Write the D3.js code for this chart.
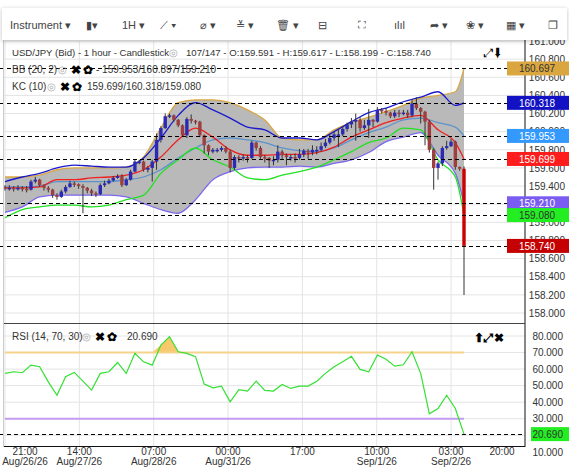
<!DOCTYPE html>
<html><head><meta charset="utf-8">
<script src="https://cdn.jsdelivr.net/npm/d3@7"></script>
<style>body{margin:0;background:#fff;font-family:"Liberation Sans",Arial,sans-serif}</style>
</head><body><svg id="chart" width="569" height="472"></svg>
<script>
// candles, hourly, opens are the previous close
const closes = [159.38,159.38,159.37,159.38,159.37,159.36,159.45,159.47,159.41,159.38,
159.36,159.30,159.28,159.34,159.39,159.43,159.42,159.40,159.38,159.35,
159.32,159.31,159.41,159.43,159.46,159.49,159.51,159.41,159.47,159.56,
159.67,159.67,159.58,159.60,159.67,159.91,160.04,160.17,160.18,160.13,
160.07,159.96,160.14,160.12,160.11,159.96,159.85,159.78,159.80,159.80,
159.82,159.78,159.60,159.72,159.71,159.72,159.71,159.88,159.82,159.72,
159.71,159.68,159.69,159.78,159.74,159.72,159.72,159.71,159.75,159.79,
159.77,159.80,159.80,159.84,159.88,159.93,159.97,159.97,160.03,160.08,
160.11,160.13,160.04,160.07,160.13,160.11,160.24,160.23,160.21,160.17,
160.21,160.20,160.21,160.18,160.31,160.26,160.22,160.11,159.80,159.60,
159.65,159.82,159.84,159.89,159.61,159.591,158.740];
const highs = [159.41,159.41,159.40,159.41,159.40,159.40,159.47,159.50,159.48,159.42,
159.40,159.37,159.32,159.36,159.41,159.46,159.45,159.43,159.42,159.39,
159.37,159.34,159.43,159.46,159.48,159.51,159.53,159.53,159.49,159.58,
159.69,159.69,159.68,159.62,159.69,159.98,160.06,160.20,160.20,160.19,
160.14,160.08,160.16,160.19,160.13,160.12,159.97,159.86,159.82,159.82,
159.84,159.84,159.80,159.74,159.74,159.75,159.74,159.90,159.89,159.84,
159.74,159.72,159.73,159.85,159.80,159.76,159.75,159.76,159.81,159.81,
159.81,159.85,159.84,159.88,159.92,159.97,160.00,160.03,160.06,160.10,
160.15,160.20,160.16,160.13,160.25,160.14,160.27,160.26,160.26,160.22,
160.24,160.24,160.24,160.24,160.36,160.38,160.27,160.23,160.13,159.82,
159.67,159.84,159.90,159.92,159.90,159.617,159.617];
const lows = [159.35,159.35,159.34,159.35,159.34,159.33,159.35,159.43,159.39,159.35,
159.33,159.27,159.25,159.27,159.32,159.38,159.39,159.37,159.10,159.32,
159.29,159.28,159.30,159.39,159.42,159.45,159.48,159.39,159.40,159.46,
159.55,159.64,159.56,159.55,159.45,159.58,159.88,160.03,160.15,160.11,
160.05,159.94,159.93,160.09,160.08,159.94,159.76,159.74,159.76,159.77,
159.78,159.76,159.55,159.58,159.66,159.68,159.66,159.70,159.79,159.70,
159.66,159.60,159.63,159.66,159.70,159.63,159.68,159.66,159.69,159.72,
159.70,159.74,159.75,159.78,159.82,159.86,159.90,159.83,159.95,160.00,
160.04,159.90,160.00,160.02,159.93,160.05,160.10,160.20,160.18,160.15,
160.15,160.16,160.18,160.15,160.16,160.24,160.09,159.85,159.77,159.36,
159.47,159.62,159.80,159.83,159.58,159.57,158.199];
const firstOpen = 159.39;

// indicator lines, read every 4th bar (0,4,...,104) plus the last bar 106
const bandBars = [0,4,8,12,16,20,24,28,32,36,40,44,48,52,56,60,64,68,72,76,80,84,88,92,96,100,104,106];
const bbUpper = [159.50,159.50,159.52,159.58,159.60,159.60,159.60,159.61,159.72,160.04,160.32,160.35,160.35,160.32,160.24,160.13,159.93,159.91,159.91,160.02,160.10,160.16,160.22,160.29,160.37,160.40,160.44,160.697];
const bbMid = [159.39,159.39,159.40,159.45,159.45,159.45,159.45,159.47,159.50,159.58,159.71,159.82,159.91,159.93,159.91,159.88,159.82,159.79,159.78,159.82,159.91,159.99,160.05,160.13,160.15,160.10,160.05,159.953];
const bbLower = [159.11,159.17,159.28,159.30,159.30,159.30,159.30,159.28,159.21,159.14,159.10,159.25,159.47,159.56,159.60,159.61,159.61,159.62,159.61,159.65,159.69,159.77,159.89,159.94,159.99,159.74,159.54,159.210];
const kcUpper = [159.45,159.50,159.54,159.60,159.63,159.62,159.61,159.61,159.71,159.93,160.18,160.32,160.24,160.15,160.05,160.02,159.93,159.93,159.91,160.00,160.11,160.21,160.26,160.33,160.38,160.44,160.29,160.318];
const kcMid = [159.38,159.38,159.39,159.47,159.47,159.49,159.50,159.52,159.58,159.72,159.91,160.04,159.94,159.80,159.74,159.74,159.75,159.75,159.77,159.83,159.94,160.02,160.10,160.15,160.18,160.02,159.88,159.699];
const kcLower = [159.05,159.14,159.17,159.19,159.19,159.17,159.19,159.25,159.30,159.54,159.69,159.82,159.69,159.61,159.49,159.47,159.52,159.56,159.61,159.69,159.78,159.88,159.93,160.04,160.02,159.69,159.50,159.080];

// RSI read every 2nd bar (0,2,...,104) plus bar 106
const rsiValues = [57.4,58.4,57.8,62.4,61.4,52.3,44.2,55.4,58.0,52.7,47.3,57.4,58.4,64.0,57.4,69.5,64.4,62.4,74.5,79.6,
70.5,69.5,67.5,50.9,48.7,49.7,40.2,47.5,46.7,52.7,47.1,46.7,50.7,48.3,49.7,49.7,52.7,57.4,61.4,64.4,
67.7,59.8,58.4,68.5,65.9,61.8,62.6,70.5,57.4,33.0,36.2,44.2,36.2,20.69];

const tickBars = [0,17,34,51,68,85,102,119];
const tickTimes = ["21:00","14:00","07:00","00:00","17:00","10:00","03:00","20:00"];
const tickDates = ["Aug/26/26","Aug/27/26","Aug/28/26","Aug/31/26","","Sep/1/26","Sep/2/26",""];
const priceTicks = [158.0,158.2,158.4,158.6,158.8,159.0,159.2,159.4,159.6,159.8,160.0,160.2,160.4,160.6,160.8,161.0];
const rsiTicks = [10,20,30,40,50,60,70,80];
const priceTags = [
  {v:160.697, bg:"#d9a640", fg:"#333"},
  {v:160.318, bg:"#1212c4", fg:"#fff"},
  {v:159.953, bg:"#3399ff", fg:"#fff"},
  {v:159.699, bg:"#ff1c1c", fg:"#fff"},
  {v:159.210, bg:"#7a5cf2", fg:"#fff"},
  {v:159.080, bg:"#22ee22", fg:"#333"},
  {v:158.740, bg:"#c40000", fg:"#fff"}
];

const svg = d3.select("#chart");
const sepX = 525;
const x = d3.scaleLinear().domain([0, 106]).range([5, 464]);
const y = d3.scaleLinear().domain([158, 161]).range([313, 41]);
const yr = d3.scaleLinear().domain([10, 80]).range([451.8, 336]);

// clip for plot areas
const defs = svg.append("defs");
defs.append("clipPath").attr("id","cp").append("rect").attr("x",3).attr("y",41).attr("width",sepX-3).attr("height",282);
defs.append("clipPath").attr("id","cr").append("rect").attr("x",3).attr("y",324).attr("width",sepX-3).attr("height",122);
const shadow = defs.append("filter").attr("id","sh").attr("x","-5%").attr("y","-50%").attr("width","110%").attr("height","200%");
shadow.append("feDropShadow").attr("dx",0).attr("dy",1).attr("stdDeviation",2).attr("flood-color","#000").attr("flood-opacity",0.25);

// grids
const grid = svg.append("g").attr("stroke","#e4e4e4").attr("stroke-width",1);
priceTicks.forEach(p => grid.append("line").attr("x1",3).attr("x2",sepX).attr("y1",y(p)).attr("y2",y(p)));
rsiTicks.forEach(p => grid.append("line").attr("x1",3).attr("x2",sepX).attr("y1",yr(p)).attr("y2",yr(p)).attr("clip-path","url(#cr)"));
const tickX = b => 5 + b * (459 / 106) * 1.01;
tickBars.forEach(b => {
  if (tickX(b) >= sepX) return;
  grid.append("line").attr("x1",tickX(b)).attr("x2",tickX(b)).attr("y1",41).attr("y2",323);
  grid.append("line").attr("x1",tickX(b)).attr("x2",tickX(b)).attr("y1",324).attr("y2",446);
});

// price pane
const pane = svg.append("g").attr("clip-path","url(#cp)");
const bx = d => x(bandBars[d]);
const bandData = bandBars.map((b,i) => i);
pane.append("path").datum(bandData)
  .attr("fill","#b9b9b9")
  .attr("d", d3.area().x(bx).y0(i => y(bbLower[i])).y1(i => y(bbUpper[i])).curve(d3.curveMonotoneX));

const lineOf = arr => d3.line().x(bx).y(i => y(arr[i])).curve(d3.curveMonotoneX)(bandData);
[[bbUpper,"#d9a640"],[bbLower,"#7b68ee"],[bbMid,"#5b93cc"],[kcUpper,"#1a1acc"],[kcMid,"#f02020"],[kcLower,"#22e022"]]
  .forEach(([arr,c]) => pane.append("path").attr("d",lineOf(arr)).attr("fill","none").attr("stroke",c).attr("stroke-width",1.3));

const candles = closes.map((c,i) => ({i, o: i ? closes[i-1] : firstOpen, c, h: highs[i], l: lows[i]}));
const cg = pane.append("g");
cg.selectAll(".wick").data(candles).join("line")
  .attr("x1",d=>x(d.i)).attr("x2",d=>x(d.i)).attr("y1",d=>y(d.h)).attr("y2",d=>y(d.l))
  .attr("stroke","#333").attr("stroke-width",1);
cg.selectAll(".body").data(candles).join("rect")
  .attr("x",d=>x(d.i)-1.7).attr("width",3.4)
  .attr("y",d=>y(Math.max(d.o,d.c))).attr("height",d=>Math.max(1.5,Math.abs(y(d.o)-y(d.c))))
  .attr("fill",d=> d.i===106 ? "#cc0000" : d.c>=d.o ? "#2a2ab4" : "#9e3e3e");

// dashed value lines
const dash = svg.append("g").attr("stroke","#000").attr("stroke-dasharray","4,3").attr("stroke-width",1);
priceTags.forEach(t => dash.append("line").attr("x1",0).attr("x2",sepX).attr("y1",Math.round(y(t.v))+0.5).attr("y2",Math.round(y(t.v))+0.5));

// RSI pane
const rsiBars = rsiValues.map((v,i) => Math.min(i*2, 106));
const rp = svg.append("g").attr("clip-path","url(#cr)");
rp.append("path").datum(rsiValues)
  .attr("fill","#f7c25c").attr("opacity",0.9)
  .attr("d", d3.area().x((d,i)=>x(rsiBars[i])).y0(yr(70)).y1(d=>yr(Math.max(d,70))));
rp.append("line").attr("x1",5).attr("x2",x(106)).attr("y1",yr(70)).attr("y2",yr(70)).attr("stroke","#f5d38a").attr("stroke-width",2);
rp.append("line").attr("x1",5).attr("x2",x(106)).attr("y1",yr(30)).attr("y2",yr(30)).attr("stroke","#c49cf2").attr("stroke-width",2);
rp.append("path").datum(rsiValues)
  .attr("fill","none").attr("stroke","#33e033").attr("stroke-width",1.2)
  .attr("d", d3.line().x((d,i)=>x(rsiBars[i])).y(d=>yr(d)));
svg.append("line").attr("x1",0).attr("x2",sepX).attr("y1",Math.round(yr(20.69))+0.5).attr("y2",Math.round(yr(20.69))+0.5)
  .attr("stroke","#000").attr("stroke-dasharray","4,3");

// frame lines
svg.append("line").attr("x1",sepX).attr("x2",sepX).attr("y1",40).attr("y2",447).attr("stroke","#111");
svg.append("line").attr("x1",3).attr("x2",sepX).attr("y1",323.5).attr("y2",323.5).attr("stroke","#444");
svg.append("line").attr("x1",3).attr("x2",sepX).attr("y1",446.5).attr("y2",446.5).attr("stroke","#111");
svg.append("line").attr("x1",3.5).attr("x2",3.5).attr("y1",40).attr("y2",447).attr("stroke","#ccc");

// right axes via d3 axes
const styleAxis = g => {
  g.select(".domain").remove();
  g.selectAll(".tick line").remove();
  g.selectAll("text").attr("font-size",10).attr("fill","#333").attr("font-family","Liberation Sans, Arial, sans-serif");
};
svg.append("g").attr("transform","translate(565,0)")
  .call(d3.axisLeft(y).tickValues(priceTicks).tickSize(0).tickPadding(0).tickFormat(d3.format(".3f")))
  .call(styleAxis);
svg.append("g").attr("transform","translate(563,0)")
  .call(d3.axisLeft(yr).tickValues(rsiTicks).tickSize(0).tickPadding(0).tickFormat(d3.format(".3f")))
  .call(styleAxis);
priceTags.forEach(t => {
  const g = svg.append("g");
  g.append("rect").attr("x",507).attr("y",y(t.v)-7).attr("width",62).attr("height",14).attr("fill",t.bg);
  g.append("text").attr("x",537).attr("y",y(t.v)+4).attr("text-anchor","middle").attr("font-size",10).attr("fill",t.fg).text(t.v.toFixed(3));
});
svg.append("rect").attr("x",531).attr("y",yr(20.69)-7).attr("width",38).attr("height",14).attr("fill","#22ee22");
svg.append("text").attr("x",563).attr("y",yr(20.69)+4).attr("text-anchor","end").attr("font-size",10).attr("fill","#333").text("20.690");

// time axis
const tx = svg.append("g").attr("font-size",10).attr("fill","#333").attr("text-anchor","middle");
tickBars.forEach((b,i) => {
  const cx = Math.max(25, Math.min(502, tickX(b)));
  tx.append("text").attr("x",cx).attr("y",455).text(tickTimes[i]);
  if (tickDates[i]) tx.append("text").attr("x",cx).attr("y",465).text(tickDates[i]);
});

// legends
const lg = svg.append("g").attr("font-size",10).attr("fill","#333");
const icons = (gx, gy) => {
  lg.append("text").attr("x",gx).attr("y",gy).attr("fill","#aaa").text("◎");
  lg.append("text").attr("x",gx+13).attr("y",gy+1).attr("font-size",12).attr("font-weight","bold").attr("fill","#000").text("✖");
  lg.append("text").attr("x",gx+25).attr("y",gy+1).attr("font-size",12).attr("font-weight","bold").attr("fill","#000").text("✿");
};
lg.append("text").attr("x",12).attr("y",56).attr("font-size",9.6).text("USD/JPY (Bid) - 1 hour - Candlestick");
lg.append("text").attr("x",169).attr("y",56).attr("fill","#aaa").text("◎");
lg.append("text").attr("x",186).attr("y",56).attr("font-size",9.6).text("107/147 - O:159.591 - H:159.617 - L:158.199 - C:158.740");
lg.append("text").attr("x",12).attr("y",73).text("BB (20, 2)");
icons(58, 73);
lg.append("text").attr("x",96).attr("y",73).text("- 159.953/160.897/159.210");
lg.append("text").attr("x",12).attr("y",90).text("KC (10)");
icons(47, 90);
lg.append("text").attr("x",87).attr("y",90).text("159.699/160.318/159.080");
lg.append("text").attr("x",484).attr("y",57).attr("font-size",12).attr("fill","#000").text("⤢⬇");
lg.append("text").attr("x",12).attr("y",340).text("RSI (14, 70, 30)");
icons(82, 340);
lg.append("text").attr("x",127).attr("y",340).text("20.690");
lg.append("text").attr("x",474).attr("y",342).attr("font-size",12).attr("font-weight","bold").attr("fill","#000").text("⬆⤢✖");

// toolbar
const tb = svg.append("g");
tb.append("rect").attr("x",2).attr("y",8).attr("width",565).attr("height",32).attr("fill","#fff").attr("filter","url(#sh)");
const tools = [["Instrument ▾",10],["▮▾",86],["1H ▾",122],["⟋ ▾",160],["⌀ ▾",200],["≚ ▾",236],["🗑 ▾",276],["⊟",318],["⛶",358],["ılıl",394],["➦ ▾",430],["❀ ▾",466],["▦ ▾",506],["❐",548]];
tools.forEach(([t,tx0]) => tb.append("text").attr("x",tx0).attr("y",29).attr("font-size",11).attr("fill","#444").text(t));
</script></body></html>
